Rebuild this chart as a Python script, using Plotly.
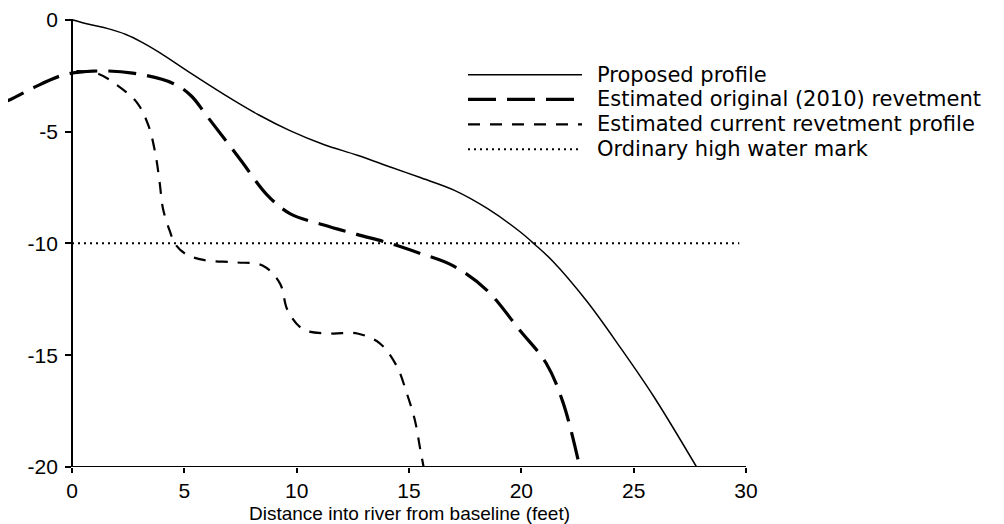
import plotly.graph_objects as go

# ---- data ----
proposed_x = [0, 0.8, 1.6, 2.4, 3.1, 3.9, 5.3, 6.8, 8.3, 9.7, 11.2, 12.7, 14.2, 15.5, 17.0, 18.5, 19.9, 20.6, 21.4, 22.9, 24.4, 25.9, 27.8]
proposed_y = [0, -0.22, -0.4, -0.66, -1.0, -1.47, -2.4, -3.36, -4.25, -4.96, -5.58, -6.06, -6.6, -7.06, -7.62, -8.45, -9.45, -10.05, -10.8, -12.57, -14.65, -16.86, -20]

original_x = [-3.3, -2.76, -1.73, -0.4, 0.93, 2.7, 4.5, 5.3, 6.0, 7.48, 8.68, 9.7, 11.17, 12.68, 14.15, 15.47, 16.95, 18.47, 19.94, 21.1, 21.85, 22.6]
original_y = [-3.75, -3.58, -3.05, -2.48, -2.3, -2.39, -2.85, -3.4, -4.3, -6.24, -7.83, -8.67, -9.17, -9.6, -10.0, -10.44, -11.0, -12.1, -13.9, -15.35, -17.1, -20]

current_x = [0.2, 1.1, 2.0, 2.9, 3.4, 3.7, 3.9, 4.05, 4.36, 4.6, 5.1, 5.9, 7.3, 8.5, 9.26, 9.6, 10.3, 11.5, 12.7, 13.7, 14.46, 14.9, 15.26, 15.5, 15.65]
current_y = [-2.3, -2.39, -2.92, -3.72, -4.73, -5.93, -7.26, -8.45, -9.47, -10.04, -10.5, -10.75, -10.85, -11.0, -11.8, -13.0, -13.85, -14.03, -14.03, -14.47, -15.5, -16.7, -17.9, -19.2, -20]

hwm_x = [0, 29.7]
hwm_y = [-10, -10]

x_ticks = [0, 5, 10, 15, 20, 25, 30]
x_ticklabels = ["0", "5", "10", "15", "20", "25", "30"]
y_ticks = [0, -5, -10, -15, -20]
y_ticklabels = ["0", "-5", "-10", "-15", "-20"]

series_names = ["Proposed profile", "Estimated original (2010) revetment",
                "Estimated current revetment profile", "Ordinary high water mark"]
x_title = "Distance into river from baseline (feet)"

# ---- styles ----
styles = [
    dict(color="black", width=1.5, dash="solid"),
    dict(color="black", width=3.2, dash="28px,11px"),
    dict(color="black", width=2.2, dash="12px,10px"),
    dict(color="black", width=2, dash="2px,4px"),
]

OFF = 8  # page body margin
W, H = 1004 - OFF, 524 - OFF
ml, mr, mt, mb = 0, 258, 16 - OFF, 57
pw = W - ml - mr
ph = H - mt - mb
x0_px = 72 - OFF  # pixel of x=0 within plot area
scale = (pw - x0_px) / 30.0
xmin = -x0_px / scale


def py_paper(page_y):
    return (ph - (page_y - OFF - mt)) / ph


def px_paper(page_x):
    return (page_x - OFF - ml) / pw


fig = go.Figure()
for xs, ys, st in [(proposed_x, proposed_y, styles[0]),
                   (original_x, original_y, styles[1]),
                   (current_x, current_y, styles[2]),
                   (hwm_x, hwm_y, styles[3])]:
    fig.add_trace(go.Scatter(x=xs, y=ys, mode="lines", showlegend=False,
                             line=dict(color=st["color"], width=st["width"], dash=st["dash"],
                                       shape="spline", smoothing=1.0),
                             hoverinfo="skip"))

font_tick = dict(family="Liberation Sans, Arial, sans-serif", size=21, color="black")

fig.update_layout(
    width=W, height=H,
    margin=dict(l=ml, r=mr, t=mt, b=mb),
    paper_bgcolor="white", plot_bgcolor="white",
    xaxis=dict(range=[xmin, 30], showgrid=False, zeroline=False, showline=False,
               tickvals=x_ticks, ticktext=x_ticklabels, ticks="outside", ticklen=5,
               tickwidth=1.5, tickcolor="black", tickfont=font_tick,
               ticklabeloverflow="allow"),
    yaxis=dict(range=[-20, 0.03], showgrid=False, zeroline=False, showline=True,
               linecolor="black", linewidth=1.8, anchor="free", position=x0_px / pw,
               tickvals=y_ticks, ticktext=y_ticklabels, ticks="outside", ticklen=6,
               tickwidth=1.5, tickcolor="black", tickfont=font_tick, ticklabelstandoff=3,
               ticklabeloverflow="allow"),
)

# x axis line from 0 to 30
fig.add_shape(type="line", xref="x", yref="y", x0=0, x1=30, y0=-20, y1=-20,
              line=dict(color="black", width=1.8))

# axis title
fig.add_annotation(text=x_title, xref="paper", yref="paper",
                   x=px_paper(409), y=py_paper(514),
                   xanchor="center", yanchor="middle", showarrow=False,
                   font=dict(family="Liberation Sans, Arial, sans-serif", size=19, color="black"))

# legend
rows_px = [72, 97, 122, 147]
for name, st, rp in zip(series_names, styles, rows_px):
    yp = py_paper(rp)
    fig.add_shape(type="line", xref="paper", yref="paper",
                  x0=px_paper(468), x1=px_paper(582), y0=yp, y1=yp,
                  line=dict(color=st["color"], width=st["width"], dash=st["dash"]))
    fig.add_annotation(text=name, xref="paper", yref="paper", x=px_paper(595), y=yp,
                       xanchor="left", yanchor="middle", showarrow=False,
                       font=dict(family="DejaVu Sans, sans-serif", size=21, color="black"))

fig.write_html("out.html")
